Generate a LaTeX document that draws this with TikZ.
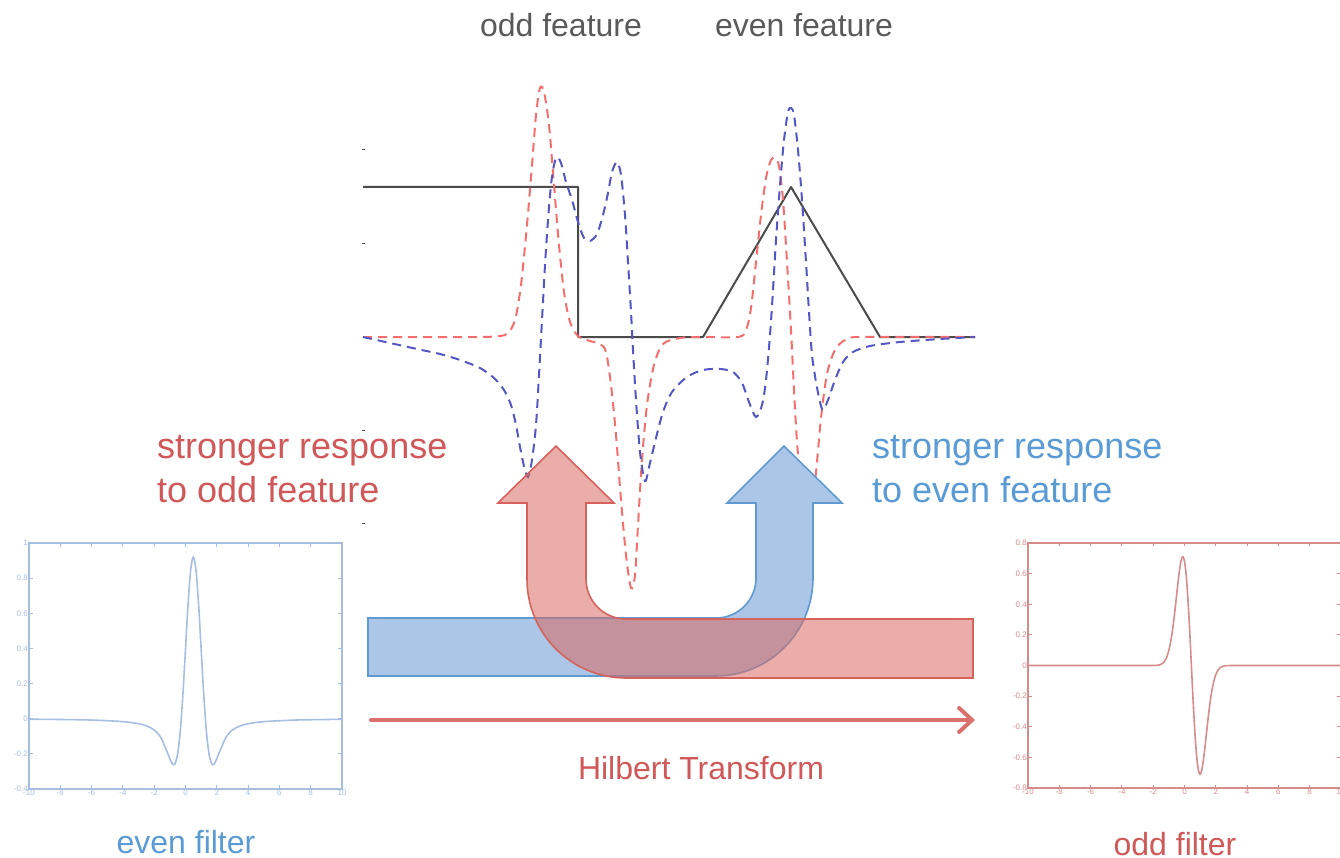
\documentclass[tikz,border=0pt]{standalone}
\usepackage{fontspec}
\setmainfont{Liberation Sans}
\usetikzlibrary{arrows.meta}
\definecolor{txtred}{RGB}{208,88,88}
\definecolor{txtblue}{RGB}{91,155,213}
\definecolor{txtgray}{RGB}{90,90,90}
\definecolor{dred}{RGB}{245,110,110}
\definecolor{dblue}{RGB}{85,85,195}
\definecolor{sig}{RGB}{75,75,75}
\definecolor{arrred}{RGB}{214,98,92}
\definecolor{arrredfill}{RGB}{217,105,98}
\definecolor{arrblue}{RGB}{95,155,210}
\definecolor{arrbluefill}{RGB}{171,198,230}
\definecolor{plotblue}{RGB}{165,190,225}
\definecolor{plotred}{RGB}{215,140,140}
\definecolor{hilb}{RGB}{220,112,108}
\begin{document}
\begin{tikzpicture}[x=1pt,y=-1pt,
  bigtxt/.style={inner sep=0pt, anchor=base west, font=\fontsize{36}{40}\selectfont},
  midtxt/.style={inner sep=0pt, anchor=base, font=\fontsize{32}{36}\selectfont},
  ticklbl/.style={inner sep=1pt, font=\fontsize{8}{9}\selectfont},
  dashcurve/.style={line width=2pt, dash pattern=on 9pt off 6pt, smooth, tension=0.5},
  signal/.style={sig, line width=2pt, line join=round},
  bluearrow/.style={draw=arrblue, fill=arrbluefill, line width=1.6pt, line join=miter},
  redarrow/.style={draw=arrred, fill=arrredfill, fill opacity=0.55, line width=1.6pt, line join=miter},
  hilbarrow/.style={hilb, line width=4pt, line cap=round, -{Straight Barb[length=13pt,width=24pt,line cap=round]}}
]
\useasboundingbox (0,0) rectangle (1340,858);

% ---------------- top plot ----------------
\foreach \yy in {149,243,430,523} {\draw[sig, line width=0.8pt] (362,\yy) -- (365,\yy);}
\draw[signal] (363,187) -- (578,187) -- (578,337) -- (703,337) -- (791,187) -- (880,337) -- (975,337);

\draw[dred, dashcurve] plot coordinates {
(363,337) (420,337) (480,337) (500,336) (508,333) (515,320) (521,285) (527,225) (532,165)
(536,115) (540,88) (544,92) (549,125) (554,185) (559,245) (564,292) (570,322) (578,336)
(590,341) (600,344) (606,352) (611,385) (616,435) (621,500) (626,555) (631,588) (635,575)
(638,525) (642,460) (647,405) (654,365) (663,344) (680,338) (700,337) (738,337) (746,330)
(751,308) (756,262) (761,215) (766,178) (771,160) (775,158) (779,166) (783,200) (787,262)
(791,330) (794,390) (797,442) (801,485) (805,512) (809,520) (813,500) (817,462) (821,418)
(827,374) (835,350) (845,340) (860,337) (975,337)};

\draw[dblue, dashcurve] plot coordinates {
(363,337) (390,343) (417,349) (440,354) (460,360) (480,368) (494,378) (504,390) (511,405)
(516,425) (520,447) (524,466) (528,477) (532,460) (536,425) (539,375) (542,320) (545,265)
(548,220) (551,185) (554,165) (557,157) (561,163) (566,182) (572,200) (578,222) (584,238)
(590,241) (597,234) (603,215) (608,193) (612,172) (617,162) (621,175) (625,215) (628,262)
(631,312) (633,350) (636,400) (640,452) (645,481) (650,463) (656,438) (663,412) (672,392)
(687,377) (703,370) (720,369) (733,372) (742,383) (749,402) (756,417) (762,405) (766,380)
(770,335) (773,290) (776,240) (780,185) (784,140) (788,112) (791,108) (794,115) (798,150)
(802,200) (806,262) (809,312) (812,355) (816,382) (820,402) (823,410) (828,400) (835,380)
(843,362) (853,352) (870,346) (900,342) (940,339) (975,337)};

\node[midtxt, txtgray] (oddfeat) at (561,37) {odd feature};
\node[midtxt, txtgray] (evenfeat) at (804,37) {even feature};

% ---------------- big arrows ----------------
\path[bluearrow] (368,618) -- (716,618) .. controls (738.1,618) and (756,600.1) .. (756,578)
  -- (756,503) -- (727,503) -- (784,446) -- (842,503) -- (813,503) -- (813,578)
  .. controls (813,631.9) and (769.6,676) .. (716,676) -- (368,676) -- cycle;
\path[redarrow] (973,619) -- (626,619) .. controls (603.9,619) and (586,601.1) .. (586,579)
  -- (586,503) -- (614,503) -- (556,446) -- (498,503) -- (527,503) -- (527,579)
  .. controls (527,633.7) and (571.3,678) .. (626,678) -- (973,678) -- cycle;

\node[bigtxt, txtred] (oddresp1) at (157,458) {stronger response};
\node[bigtxt, txtred] (oddresp2) at (157,502) {to odd feature};
\node[bigtxt, txtblue] (evenresp1) at (872,458) {stronger response};
\node[bigtxt, txtblue] (evenresp2) at (872,502) {to even feature};

% ---------------- Hilbert arrow ----------------
\coordinate (hs) at (371,720);
\coordinate (he) at (975,720);
\draw[hilbarrow] (hs) -- (he);
\node[midtxt, txtred] (hilbtxt) at (701,779) {Hilbert Transform};

% ---------------- left plot (even filter) ----------------
\begin{scope}[shift={(185.5,718.7)}, x=15.65pt, y=175.7pt]
  \foreach \t in {-10,-8,...,10} {
    \draw[plotblue, line width=1pt] (\t,-0.4) -- ++(0,0.02) (\t,1) -- ++(0,-0.02);
    \node[ticklbl, plotblue, below] at (\t,-0.4) {\t};
  }
  \foreach \v/\l in {-0.4/-0.4,-0.2/-0.2,0/0,0.2/0.2,0.4/0.4,0.6/0.6,0.8/0.8,1/1} {
    \draw[plotblue, line width=1pt] (-10,\v) -- ++(0.25,0) (10,\v) -- ++(-0.25,0);
    \node[ticklbl, plotblue, left] at (-10,\v) {\l};
  }
  \draw[plotblue, line width=1.8pt] (-10,-0.4) rectangle (10,1);
  \draw[plotblue, line width=1.6pt, smooth, tension=0.5] plot coordinates {
  (-10,-0.003) (-8,-0.0045) (-6,-0.0077) (-4,-0.0167) (-3,-0.0286) (-2.5,-0.0407) (-2,-0.064)
  (-1.583,-0.106) (-1.333,-0.156) (-1.167,-0.189) (-1,-0.228) (-0.833,-0.258) (-0.75,-0.262)
  (-0.667,-0.256) (-0.5,-0.2) (-0.333,-0.07) (-0.167,0.137) (0,0.396) (0.167,0.655) (0.333,0.848)
  (0.5,0.92) (0.667,0.848) (0.833,0.655) (1,0.396) (1.167,0.137) (1.333,-0.07) (1.5,-0.2)
  (1.667,-0.256) (1.75,-0.262) (1.833,-0.258) (2,-0.228) (2.167,-0.189) (2.333,-0.156)
  (2.583,-0.106) (3,-0.064) (3.5,-0.0407) (4,-0.0286) (5,-0.0167) (7,-0.0077) (9,-0.0045) (10,-0.0035)};
\end{scope}
\node[midtxt, txtblue] (evenfilt) at (186,853) {even filter};

% ---------------- right plot (odd filter) ----------------
\begin{scope}[shift={(1184.5,665.5)}, x=15.65pt, y=153.1pt]
  \foreach \t in {-10,-8,...,10} {
    \draw[plotred, line width=1pt] (\t,-0.8) -- ++(0,0.02) (\t,0.8) -- ++(0,-0.02);
    \node[ticklbl, plotred, below] at (\t,-0.8) {\t};
  }
  \foreach \v/\l in {-0.8/-0.8,-0.6/-0.6,-0.4/-0.4,-0.2/-0.2,0/0,0.2/0.2,0.4/0.4,0.6/0.6,0.8/0.8} {
    \draw[plotred, line width=1pt] (-10,\v) -- ++(0.25,0) (10,\v) -- ++(-0.25,0);
    \node[ticklbl, plotred, left] at (-10,\v) {\l};
  }
  \draw[plotred, line width=1.8pt] (-10,-0.8) rectangle (10,0.8);
  \draw[plotred, line width=1.6pt] (-10,0) -- (-2.6,0)
    plot[domain=-2.6:3.5, samples=120] (\x, {-0.71*((\x-0.44)/0.55)*exp(0.5-((\x-0.44)^2)/0.605)})
    -- (10,0);
\end{scope}
\node[midtxt, txtred] (oddfilt) at (1175,855) {odd filter};
\end{tikzpicture}
\end{document}
